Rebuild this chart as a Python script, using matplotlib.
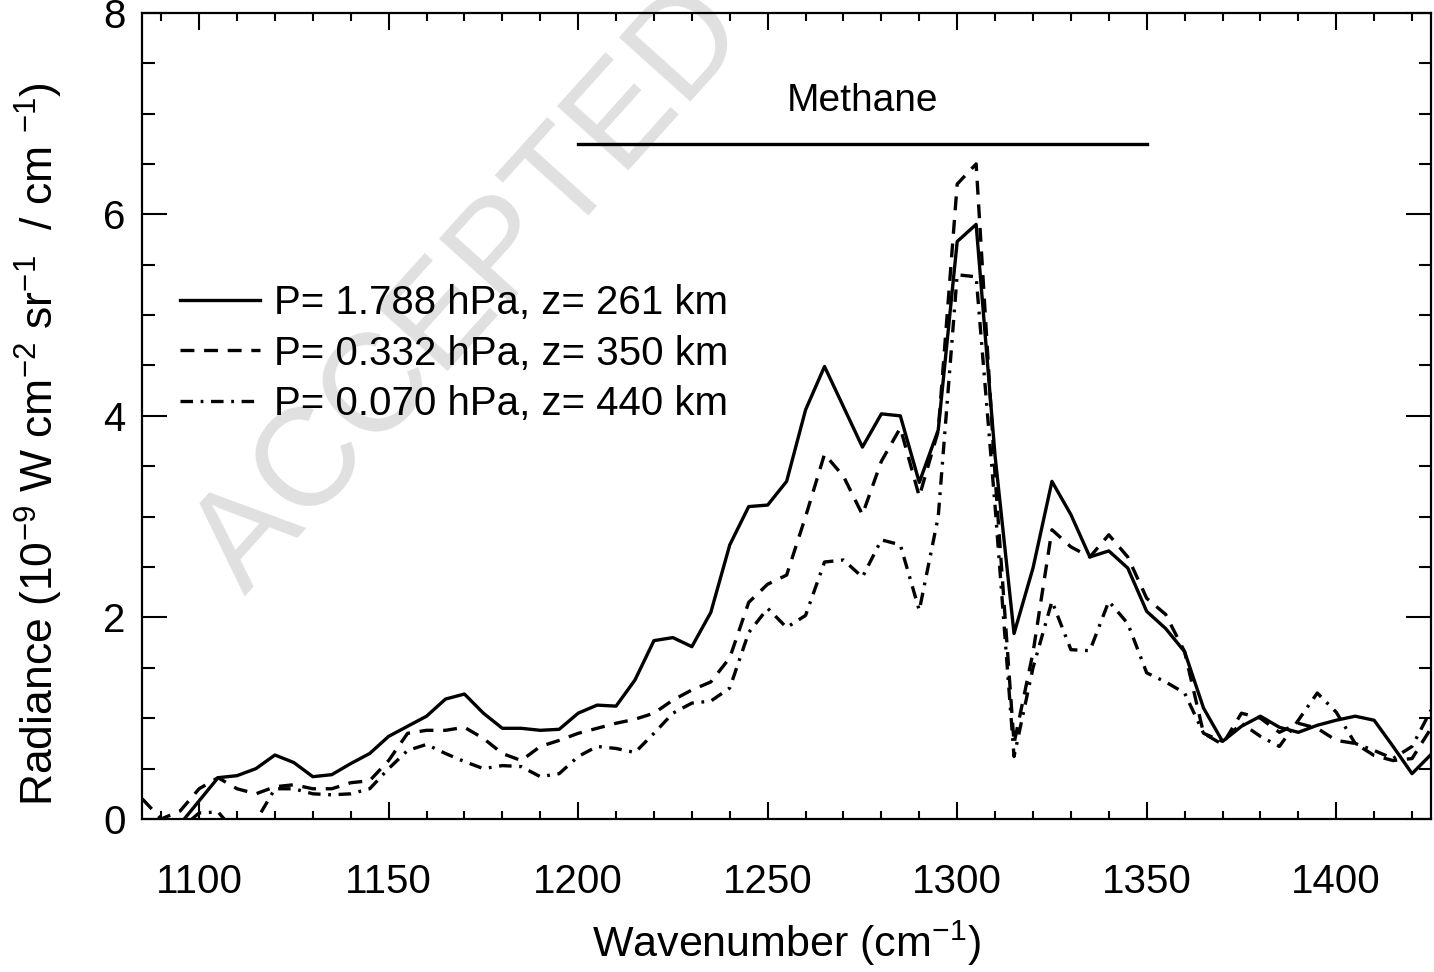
import matplotlib
matplotlib.use("Agg")
import matplotlib.pyplot as plt
from matplotlib import font_manager
from matplotlib.ticker import MultipleLocator

# ---------------- data ----------------
wavenumber = list(range(1085, 1430, 5))

rad_261km = [-0.30, -0.30, -0.05, 0.18, 0.41, 0.43, 0.50, 0.635, 0.56, 0.42,
             0.44, 0.55, 0.65, 0.82, 0.92, 1.02, 1.19, 1.24, 1.05, 0.90,
             0.90, 0.88, 0.89, 1.05, 1.13, 1.12, 1.38, 1.77, 1.80, 1.71,
             2.05, 2.72, 3.10, 3.115, 3.35, 4.06, 4.49, 4.09, 3.69, 4.02,
             4.00, 3.34, 3.86, 5.73, 5.90, 3.60, 1.84, 2.49, 3.35, 3.02,
             2.60, 2.66, 2.49, 2.06, 1.89, 1.66, 1.10, 0.77, 0.92, 1.02,
             0.91, 0.86, 0.93, 0.98, 1.02, 0.98, 0.72, 0.45, 0.64]

rad_350km = [0.20, 0.00, 0.08, 0.30, 0.41, 0.30, 0.25, 0.32, 0.34, 0.30,
             0.30, 0.36, 0.38, 0.58, 0.85, 0.88, 0.88, 0.91, 0.80, 0.65,
             0.58, 0.72, 0.78, 0.85, 0.90, 0.95, 0.99, 1.05, 1.18, 1.28,
             1.36, 1.60, 2.15, 2.33, 2.42, 3.00, 3.62, 3.40, 3.02, 3.55,
             3.88, 3.20, 3.85, 6.30, 6.50, 3.40, 0.75, 1.65, 2.87, 2.70,
             2.60, 2.82, 2.60, 2.19, 2.03, 1.66, 0.85, 0.74, 1.05, 1.00,
             0.86, 0.95, 0.90, 0.78, 0.75, 0.63, 0.58, 0.60, 0.90]

rad_440km = [-0.30, -0.30, -0.10, 0.06, 0.07, -0.15, -0.02, 0.30, 0.30, 0.25,
             0.24, 0.25, 0.30, 0.50, 0.68, 0.74, 0.65, 0.57, 0.50, 0.53,
             0.52, 0.42, 0.45, 0.62, 0.72, 0.70, 0.66, 0.85, 1.05, 1.15,
             1.17, 1.30, 1.85, 2.09, 1.90, 2.02, 2.55, 2.57, 2.40, 2.77,
             2.72, 2.07, 3.00, 5.40, 5.38, 3.10, 0.62, 1.50, 2.16, 1.68,
             1.67, 2.16, 1.94, 1.45, 1.36, 1.25, 0.85, 0.77, 0.95, 0.82,
             0.72, 0.98, 1.25, 1.06, 0.75, 0.68, 0.60, 0.72, 1.08]

series_labels = ["P= 1.788 hPa, z= 261 km",
                 "P= 0.332 hPa, z= 350 km",
                 "P= 0.070 hPa, z= 440 km"]

band_name = "Methane"
band_range = [1200, 1350]
band_level = 6.7

x_ticks = [1100, 1150, 1200, 1250, 1300, 1350, 1400]
y_ticks = [0, 2, 4, 6, 8]

# ---------------- style ----------------
def pick_font(names):
    for n in names:
        try:
            font_manager.findfont(font_manager.FontProperties(family=n),
                                  fallback_to_default=False)
            return n
        except Exception:
            pass
    return "DejaVu Sans"

main_font = pick_font(["Liberation Sans", "Arial", "DejaVu Sans"])

plt.rcParams["font.family"] = [main_font, "DejaVu Sans"]
plt.rcParams["mathtext.fontset"] = "custom"
plt.rcParams["mathtext.rm"] = main_font
plt.rcParams["mathtext.it"] = main_font
plt.rcParams["mathtext.default"] = "regular"
plt.rcParams["lines.scale_dashes"] = False

fig = plt.figure(figsize=(14.34, 9.72), dpi=100)
ax = fig.add_axes([0.0992, 0.1574, 0.8987, 0.8295])

lw = 2.4
ax.plot(wavenumber, rad_261km, color="black", lw=lw, linestyle="-",
        label=series_labels[0], zorder=3)
ax.plot(wavenumber, rad_350km, color="black", lw=lw,
        dashes=(10, 7), label=series_labels[1], zorder=3)
ax.plot(wavenumber, rad_440km, color="black", lw=lw,
        dashes=(9, 5.5, 2, 5.5), label=series_labels[2], zorder=3)

# methane band marker
ax.plot(band_range, [band_level, band_level], color="black", lw=lw, zorder=3)
ax.text(sum(band_range) / 2, band_level + 0.42, band_name, ha="center",
        va="center", fontsize=28)

# watermark
ax.text(0.255, 0.655, "ACCEPTED", transform=ax.transAxes, fontsize=100,
        rotation=48, color="#e0e0e0", ha="center", va="center", zorder=0)

ax.set_xlim(1085, 1425)
ax.set_ylim(0, 8)
ax.set_xticks(x_ticks)
ax.set_yticks(y_ticks)
ax.xaxis.set_minor_locator(MultipleLocator(10))
ax.yaxis.set_minor_locator(MultipleLocator(0.5))
ax.tick_params(axis="both", which="both", direction="in", top=True,
               right=True, width=1.5, colors="black")
ax.tick_params(axis="x", which="major", length=12, pad=32, labelsize=29)
ax.tick_params(axis="x", which="minor", length=6)
ax.tick_params(axis="y", which="major", length=18, pad=12, labelsize=29)
ax.tick_params(axis="y", which="minor", length=9)
for sp in ax.spines.values():
    sp.set_linewidth(1.6)

ax.set_xlabel("Wavenumber (cm$^{-1}$)", fontsize=31, labelpad=12)
ax.set_ylabel("Radiance (10$^{-9}$ W cm$^{-2}$ sr$^{-1}$  / cm $^{-1}$)",
              fontsize=32)
ax.yaxis.set_label_coords(-0.06, 0.465)

leg = ax.legend(loc="upper left", bbox_to_anchor=(0.029, 0.663),
                frameon=False, fontsize=29, handlelength=2.0,
                handletextpad=0.35, labelspacing=0.3, borderpad=0,
                borderaxespad=0)

fig.savefig("out.png", dpi=100)
